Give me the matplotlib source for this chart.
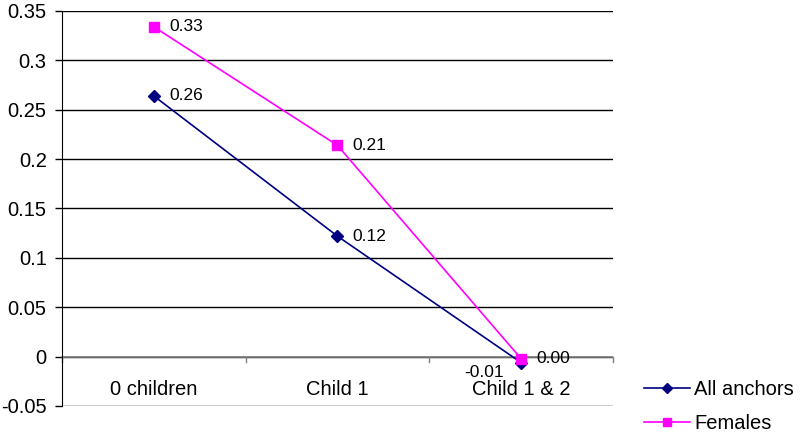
import matplotlib
matplotlib.use("Agg")
import matplotlib.pyplot as plt

plt.rcParams['font.family'] = ['Liberation Sans', 'DejaVu Sans']

categories = ["0 children", "Child 1", "Child 1 & 2"]
all_anchors = [0.264, 0.122, -0.006]
females = [0.334, 0.214, -0.002]
yticks = [-0.05, 0, 0.05, 0.1, 0.15, 0.2, 0.25, 0.3, 0.35]
ytick_labels = ["-0.05", "0", "0.05", "0.1", "0.15", "0.2", "0.25", "0.3", "0.35"]

fig = plt.figure(figsize=(8, 4.33), dpi=100)
ax = fig.add_axes([0.0775, 0.0624, 0.6885, 0.9122])

x = list(range(len(categories)))
ax.plot(x, all_anchors, color='#000080', marker='D', markersize=6, lw=1.2,
        label='All anchors', zorder=3)
ax.plot(x, females, color='#FF00FF', marker='s', markersize=7, lw=1.2,
        label='Females', zorder=3)

# data labels
for i, v in enumerate(all_anchors):
    if v < 0:
        ax.annotate(f"{v:.2f}", (i, v), xytext=(-12, -2), textcoords='offset points',
                    ha='right', va='top', fontsize=12.5)
    else:
        ax.annotate(f"{v:.2f}", (i, v), xytext=(11, 0), textcoords='offset points',
                    ha='left', va='center', fontsize=12.5)
for i, v in enumerate(females):
    ax.annotate(f"{abs(v):.2f}" if abs(v) < 0.005 else f"{v:.2f}", (i, v),
                xytext=(11, 0), textcoords='offset points',
                ha='left', va='center', fontsize=12.5)

ax.set_xlim(-0.5, 2.5)
ax.set_ylim(-0.05, 0.35)
ax.set_yticks(yticks)
ax.set_yticklabels(ytick_labels, fontsize=14.5)
ax.tick_params(axis='y', length=5, width=1, pad=6)
ax.yaxis.grid(True, color='black', lw=1)
ax.set_axisbelow(True)

# x axis at zero with boundary ticks
ax.set_xticks([])
ax.axhline(0, color='#808080', lw=1.2, zorder=2)
for b in [-0.5, 0.5, 1.5, 2.5]:
    ax.plot([b, b], [0, -0.005], color='#808080', lw=1, clip_on=False, zorder=2)
for i, c in enumerate(categories):
    ax.annotate(c, (i, 0), xytext=(0, -17), textcoords='offset points',
                ha='center', va='top', fontsize=14.5)

for s in ['top', 'right', 'bottom']:
    ax.spines[s].set_visible(False)
ax.spines['left'].set_color('black')

fig.legend(loc='lower left', bbox_to_anchor=(0.805, 0.0), frameon=False,
           fontsize=14.5, handlelength=2.3, handletextpad=0.2, labelspacing=0.75,
           borderpad=0, borderaxespad=0, markerscale=0.8)

fig.savefig('out.png', dpi=100)
